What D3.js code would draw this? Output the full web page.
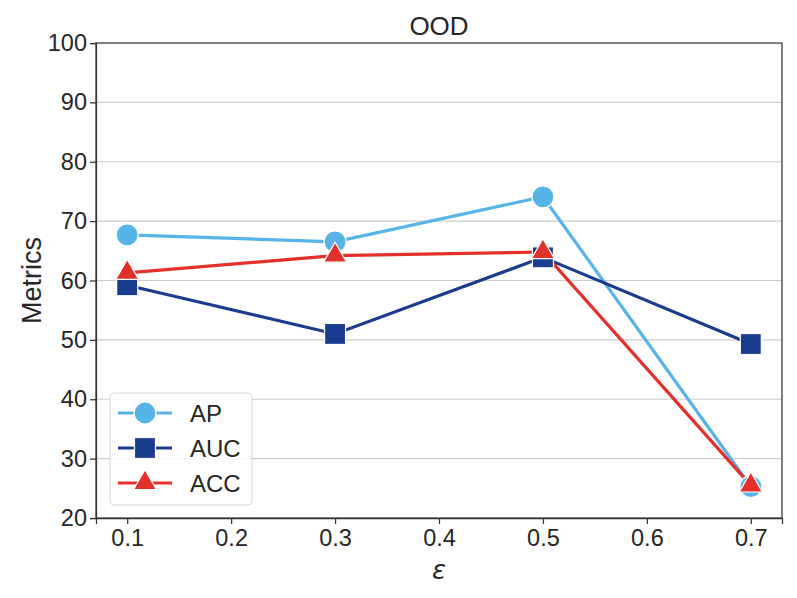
<html>
<head>
<meta charset="utf-8">
<script src="https://d3js.org/d3.v7.min.js"></script>
<style>
  body { margin: 0; background: white; }
  text { font-family: "Liberation Sans", Arial, sans-serif; fill: #262626; }
  .axis text { font-size: 23.5px; fill: #262626; }
  .axis path, .axis line { stroke: #333; stroke-width: 1.25; }
</style>
</head>
<body>
<div id="chart"></div>
<script>
// data
var eps = [0.1, 0.3, 0.5, 0.7];
var ap  = [67.7, 66.5, 74.1, 25.3];
var auc = [59.2, 51.0, 63.9, 49.3];
var acc = [61.3, 64.2, 64.8, 25.5];
var xTicks = [0.1, 0.2, 0.3, 0.4, 0.5, 0.6, 0.7];
var yTicks = [20, 30, 40, 50, 60, 70, 80, 90, 100];

var series = [
  {name: "AP",  values: ap,  color: "#56b4e6", shape: "circle"},
  {name: "AUC", values: auc, color: "#1a3c8e", shape: "square"},
  {name: "ACC", values: acc, color: "#e3302a", shape: "triangle"}
];

var W = 797, H = 598;
var margin = {top: 43, right: 15, bottom: 80, left: 96};

var svg = d3.select("#chart").append("svg")
    .attr("width", W).attr("height", H);

var x = d3.scaleLinear().domain([0.07, 0.73]).range([margin.left, W - margin.right]);
var y = d3.scaleLinear().domain([20, 100]).range([H - margin.bottom, margin.top]);

// grid
svg.append("g").selectAll("line")
  .data(yTicks.slice(1, -1))
  .enter().append("line")
    .attr("x1", x(0.07)).attr("x2", x(0.73))
    .attr("y1", function(d) { return y(d); })
    .attr("y2", function(d) { return y(d); })
    .style("stroke", "#cccccc").style("stroke-width", 1.1);

// frame
svg.append("rect")
  .attr("x", x(0.07)).attr("y", y(100))
  .attr("width", x(0.73) - x(0.07)).attr("height", y(20) - y(100))
  .style("fill", "none").style("stroke", "#333").style("stroke-width", 1.25);

svg.append("g").attr("class", "axis")
  .attr("transform", "translate(0," + y(20) + ")")
  .call(d3.axisBottom(x).tickValues(xTicks).tickSize(6).tickPadding(5).tickFormat(d3.format(".1f")));

svg.append("g").attr("class", "axis")
  .attr("transform", "translate(" + x(0.07) + ",0)")
  .call(d3.axisLeft(y).tickValues(yTicks).tickSize(6).tickPadding(3));

// titles
svg.append("text").attr("x", (x(0.07) + x(0.73)) / 2).attr("y", 35)
  .attr("text-anchor", "middle").style("font-size", "26px").text("OOD");
svg.append("text").attr("x", (x(0.07) + x(0.73)) / 2).attr("y", 579)
  .attr("text-anchor", "middle").style("font-size", "26px").style("font-style", "italic")
  .style("font-family", "'DejaVu Sans', sans-serif").text("ε");
svg.append("text")
  .attr("transform", "translate(41," + (y(60)) + ") rotate(-90)")
  .attr("text-anchor", "middle").style("font-size", "27px").text("Metrics");

function marker(g, shape, color) {
  if (shape === "circle") {
    g.append("circle").attr("r", 11);
  } else if (shape === "square") {
    g.append("rect").attr("x", -10.5).attr("y", -10.5).attr("width", 21).attr("height", 21);
  } else {
    g.append("path").attr("d", d3.symbol().type(d3.symbolTriangle).size(230)());
  }
  g.selectAll("*").style("fill", color).style("stroke", "white").style("stroke-width", 1.2);
}

var line = d3.line()
  .x(function(d, i) { return x(eps[i]); })
  .y(function(d) { return y(d); });

series.forEach(function(s) {
  svg.append("path").datum(s.values)
    .attr("d", line)
    .style("fill", "none").style("stroke", s.color).style("stroke-width", 3.2);
});
series.forEach(function(s) {
  s.values.forEach(function(v, i) {
    var g = svg.append("g").attr("transform", "translate(" + x(eps[i]) + "," + y(v) + ")");
    marker(g, s.shape, s.color);
  });
});

// legend
var lg = svg.append("g").attr("transform", "translate(110,393)");
lg.append("rect").attr("width", 142).attr("height", 112).attr("rx", 4)
  .style("fill", "white").style("fill-opacity", 0.85).style("stroke", "#d6d6d6").style("stroke-width", 1);
series.forEach(function(s, i) {
  var row = lg.append("g").attr("transform", "translate(0," + (20 + i * 35) + ")");
  row.append("line").attr("x1", 8).attr("x2", 62).attr("y1", 0).attr("y2", 0)
    .style("stroke", s.color).style("stroke-width", 3.2);
  var m = row.append("g").attr("transform", "translate(35,0)");
  marker(m, s.shape, s.color);
  row.append("text").attr("x", 80).attr("y", 9).style("font-size", "24px").text(s.name);
});
</script>
</body>
</html>
